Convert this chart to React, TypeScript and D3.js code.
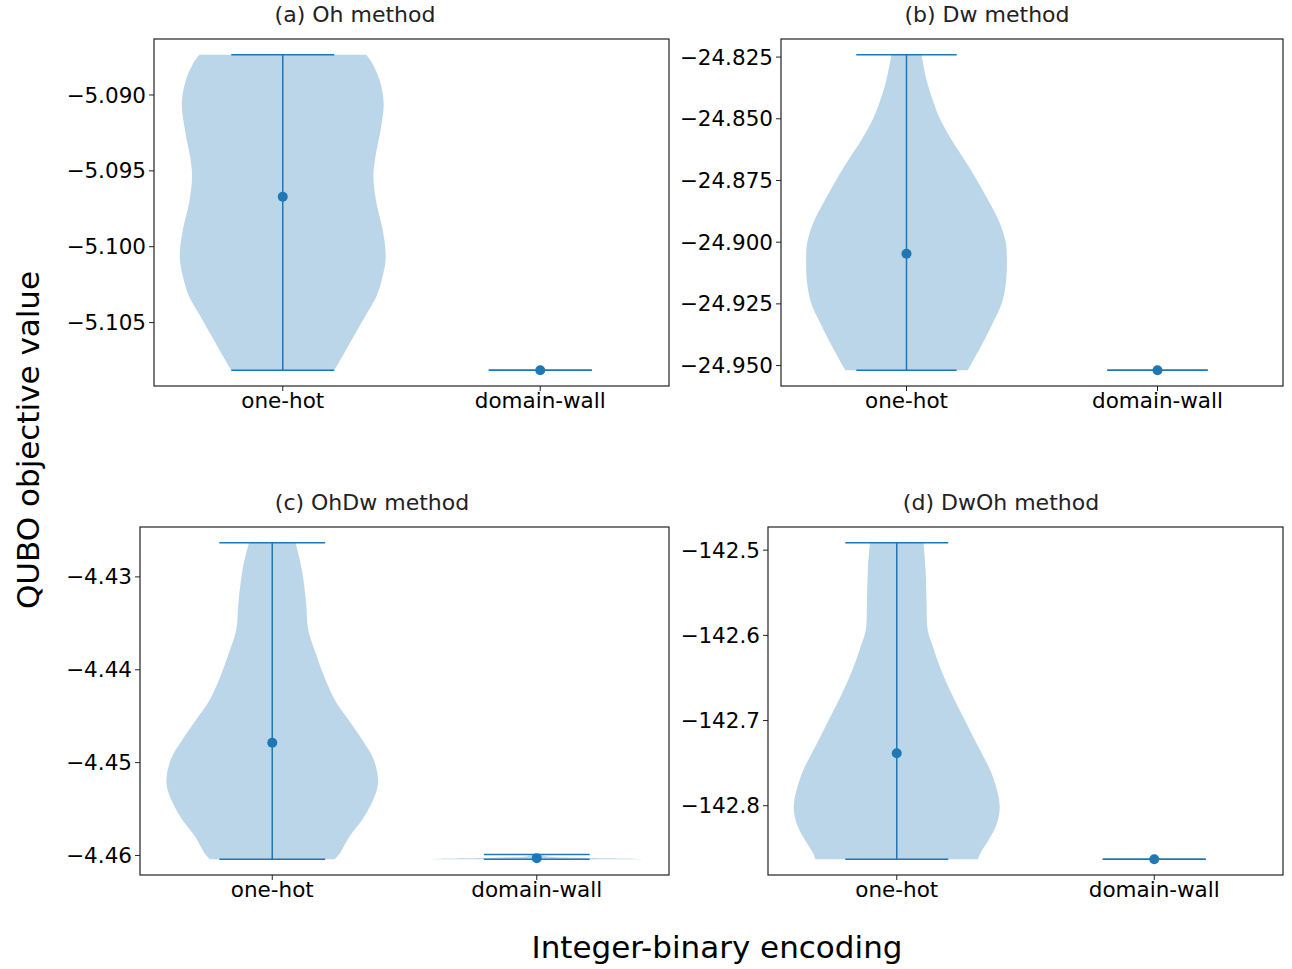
import * as d3 from "d3";

const WIDTH = 1292;
const HEIGHT = 969;
const BLUE = "#1f77b4";

const CATEGORIES = ["one-hot", "domain-wall"];
const PANEL_TITLES = ["(a) Oh method", "(b) Dw method", "(c) OhDw method", "(d) DwOh method"];

// one-hot summary stats per panel (a, b, c, d)
const ONEHOT_MIN = [-5.10814, -24.95189, -4.4604, -142.86275];
const ONEHOT_MAX = [-5.08735, -24.82406, -4.42633, -142.49137];
const ONEHOT_MEAN = [-5.09671, -24.9047, -4.44786, -142.73843];

// domain-wall summary stats per panel
const DW_MIN = [-5.10814, -24.95189, -4.4604, -142.86275];
const DW_MAX = [-5.10814, -24.95189, -4.4599, -142.86275];
const DW_MEAN = [-5.10814, -24.95189, -4.46029, -142.86275];

// violin outlines: level -> relative density
const A_LEVELS = [-5.08735, -5.08792, -5.08901, -5.09055, -5.0923, -5.09406, -5.09537, -5.09713, -5.09888, -5.10064, -5.10195, -5.10327, -5.10458, -5.1059, -5.10722, -5.10814];
const A_DENSITY = [0.81, 0.87, 0.94, 0.98, 0.95, 0.9, 0.88, 0.91, 0.97, 1.0, 0.97, 0.91, 0.8, 0.69, 0.58, 0.5];

const B_LEVELS = [-24.82406, -24.8343, -24.84105, -24.84968, -24.85858, -24.86801, -24.87476, -24.88419, -24.89229, -24.90037, -24.90847, -24.91656, -24.92465, -24.93274, -24.94083, -24.94892, -24.95189];
const B_DENSITY = [0.15, 0.2, 0.25, 0.33, 0.45, 0.6, 0.7, 0.83, 0.93, 0.99, 1.0, 0.99, 0.95, 0.86, 0.76, 0.65, 0.61];

const C_LEVELS = [-4.42633, -4.42921, -4.4328, -4.43568, -4.43819, -4.44071, -4.44322, -4.44538, -4.44754, -4.44969, -4.45221, -4.45436, -4.45616, -4.45796, -4.45975, -4.4604];
const C_DENSITY = [0.22, 0.28, 0.32, 0.34, 0.41, 0.49, 0.59, 0.72, 0.85, 0.96, 1.0, 0.94, 0.85, 0.73, 0.64, 0.59];

const C_DW_LEVELS = [-4.4599, -4.4601, -4.46025, -4.46035, -4.4604];
const C_DW_DENSITY = [0.02, 0.1, 0.4, 0.9, 1.0];

const D_LEVELS = [-142.49137, -142.52275, -142.56196, -142.59333, -142.61294, -142.64039, -142.66784, -142.69922, -142.73059, -142.76196, -142.80118, -142.82471, -142.84039, -142.85608, -142.86275];
const D_DENSITY = [0.26, 0.28, 0.29, 0.3, 0.35, 0.43, 0.53, 0.66, 0.79, 0.92, 1.0, 0.96, 0.89, 0.81, 0.79];

const Y_TICKS = [
  [-5.09, -5.095, -5.1, -5.105],
  [-24.825, -24.85, -24.875, -24.9, -24.925, -24.95],
  [-4.43, -4.44, -4.45, -4.46],
  [-142.5, -142.6, -142.7, -142.8],
];
const TICK_DIGITS = [3, 3, 2, 1];

const BOXES = [
  { x0: 154, x1: 669, y0: 39, y1: 386, titleX: 355, titleY: 22 },
  { x0: 781, x1: 1283, y0: 39, y1: 386, titleX: 987, titleY: 22 },
  { x0: 140, x1: 669, y0: 527, y1: 875, titleX: 372, titleY: 510 },
  { x0: 768, x1: 1283, y0: 527, y1: 875, titleX: 1001, titleY: 510 },
];

const ONEHOT_SHAPES = [
  { levels: A_LEVELS, density: A_DENSITY },
  { levels: B_LEVELS, density: B_DENSITY },
  { levels: C_LEVELS, density: C_DENSITY },
  { levels: D_LEVELS, density: D_DENSITY },
];
const DW_SHAPES = [null, null, { levels: C_DW_LEVELS, density: C_DW_DENSITY }, null];

const HALF_WIDTH = 0.4;
const CAP_HALF = 0.2;
const FONT = "'DejaVu Sans', sans-serif";

const fmt = (v, digits) => v.toFixed(digits).replace("-", "\u2212");

function Violin({ shape, pos, x, y }) {
  const pts = shape.levels.map((lv, i) => ({ v: lv, d: shape.density[i] }));
  const area = d3
    .area()
    .y((p) => y(p.v))
    .x0((p) => x(pos - p.d * HALF_WIDTH))
    .x1((p) => x(pos + p.d * HALF_WIDTH))
    .curve(d3.curveCatmullRom);
  return <path d={area(pts) || ""} fill={BLUE} fillOpacity={0.3} stroke="none" />;
}

function Stats({ pos, min, max, mean, x, y }) {
  return (
    <g stroke={BLUE} strokeWidth={1.5}>
      <line x1={x(pos - CAP_HALF)} x2={x(pos + CAP_HALF)} y1={y(max)} y2={y(max)} />
      <line x1={x(pos - CAP_HALF)} x2={x(pos + CAP_HALF)} y1={y(min)} y2={y(min)} />
      <line x1={x(pos)} x2={x(pos)} y1={y(max)} y2={y(min)} />
      <circle cx={x(pos)} cy={y(mean)} r={5} fill={BLUE} stroke="none" />
    </g>
  );
}

function Panel({ index }) {
  const box = BOXES[index];
  const lo = Math.min(ONEHOT_MIN[index], DW_MIN[index]);
  const hi = Math.max(ONEHOT_MAX[index], DW_MAX[index]);
  const pad = (hi - lo) * 0.05;
  const y = d3.scaleLinear().domain([lo - pad, hi + pad]).range([box.y1, box.y0]);
  const x = d3.scaleLinear().domain([0.5, 2.5]).range([box.x0, box.x1]);
  const dwShape = DW_SHAPES[index];

  return (
    <g>
      <Violin shape={ONEHOT_SHAPES[index]} pos={1} x={x} y={y} />
      {dwShape && <Violin shape={dwShape} pos={2} x={x} y={y} />}
      <Stats pos={1} min={ONEHOT_MIN[index]} max={ONEHOT_MAX[index]} mean={ONEHOT_MEAN[index]} x={x} y={y} />
      <Stats pos={2} min={DW_MIN[index]} max={DW_MAX[index]} mean={DW_MEAN[index]} x={x} y={y} />

      <rect x={box.x0} y={box.y0} width={box.x1 - box.x0} height={box.y1 - box.y0} fill="none" stroke="#222" strokeWidth={1.2} />

      {Y_TICKS[index].map((t) => (
        <g key={t}>
          <line x1={box.x0 - 5} x2={box.x0} y1={y(t)} y2={y(t)} stroke="#222" strokeWidth={1} />
          <text x={box.x0 - 8} y={y(t)} dy="0.35em" textAnchor="end" fontFamily={FONT} fontSize={21.5} fill="#000">
            {fmt(t, TICK_DIGITS[index])}
          </text>
        </g>
      ))}

      {CATEGORIES.map((c, i) => (
        <g key={c}>
          <line x1={x(i + 1)} x2={x(i + 1)} y1={box.y1} y2={box.y1 + 5} stroke="#222" strokeWidth={1} />
          <text x={x(i + 1)} y={box.y1 + 22} textAnchor="middle" fontFamily={FONT} fontSize={21.5} fill="#000">
            {c}
          </text>
        </g>
      ))}

      <text x={box.titleX} y={box.titleY} textAnchor="middle" fontFamily={FONT} fontSize={22} fill="#222">
        {PANEL_TITLES[index]}
      </text>
    </g>
  );
}

export default function App() {
  return (
    <svg width={WIDTH} height={HEIGHT} style={{ position: "absolute", left: 0, top: 0, background: "#fff" }}>
      <rect width={WIDTH} height={HEIGHT} fill="#fff" />
      {PANEL_TITLES.map((_, i) => (
        <Panel key={i} index={i} />
      ))}
      <text transform="translate(39 440) rotate(-90)" textAnchor="middle" fontFamily={FONT} fontSize={31} fill="#000">
        QUBO objective value
      </text>
      <text x={717} y={958} textAnchor="middle" fontFamily={FONT} fontSize={31} fill="#000">
        Integer-binary encoding
      </text>
    </svg>
  );
}
